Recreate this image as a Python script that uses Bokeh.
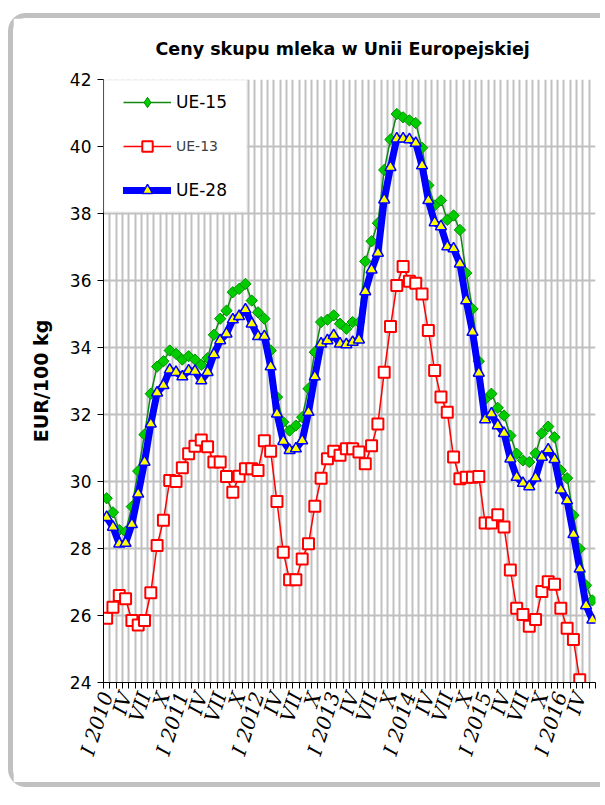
from bokeh.plotting import figure
from bokeh.models import Range1d, FixedTicker, Legend, LegendItem, BoxAnnotation
from bokeh.embed import file_html
from bokeh.resources import INLINE

# monthly data: I 2010 ... VI 2016
ue15 = [29.50, 29.08, 28.55, 28.50, 29.25, 30.31, 31.40, 32.62, 33.43, 33.59, 33.91, 33.81,
        33.64, 33.74, 33.64, 33.48, 33.68, 34.38, 34.86, 35.10, 35.65, 35.75, 35.90, 35.40,
        35.05, 34.86, 33.91, 32.52, 31.77, 31.52, 31.67, 31.92, 32.77, 33.86, 34.76, 34.83,
        34.96, 34.71, 34.56, 34.76, 34.75, 36.57, 37.17, 37.71, 39.30, 40.21, 40.97, 40.87,
        40.78, 40.70, 39.96, 38.84, 38.24, 38.39, 37.81, 37.94, 37.51, 36.22, 35.15, 33.59,
        32.45, 32.62, 32.20, 31.97, 31.37, 30.83, 30.63, 30.58, 30.84, 31.44, 31.64, 31.32,
        30.33, 30.10, 28.99, 27.99, 26.90, 26.45]

# I 2010 ... IV 2016
ue13 = [25.92, 26.25, 26.60, 26.50, 25.85, 25.72, 25.85, 26.68, 28.09, 28.84, 30.03, 30.00,
        30.41, 30.83, 31.05, 31.24, 31.04, 30.58, 30.58, 30.15, 29.68, 30.16, 30.38, 30.38,
        30.33, 31.22, 30.90, 29.40, 27.89, 27.07, 27.07, 27.69, 28.14, 29.26, 30.10, 30.68,
        30.90, 30.78, 30.98, 30.98, 30.88, 30.53, 31.07, 31.72, 33.26, 34.63, 35.85, 36.42,
        35.98, 35.92, 35.60, 34.51, 33.31, 32.52, 32.07, 30.73, 30.08, 30.13, 30.13, 30.15,
        28.76, 28.76, 29.01, 28.64, 27.36, 26.22, 26.03, 25.68, 25.88, 26.72, 27.01, 26.93,
        26.22, 25.62, 25.28, 24.08]

# I 2010 ... VI 2016
ue28 = [28.93, 28.64, 28.14, 28.16, 28.72, 29.63, 30.58, 31.72, 32.65, 32.87, 33.33, 33.26,
        33.13, 33.31, 33.29, 33.01, 33.26, 33.79, 34.21, 34.41, 34.83, 34.93, 35.13, 34.71,
        34.33, 34.33, 33.43, 32.02, 31.20, 30.93, 30.98, 31.22, 32.07, 33.13, 34.11, 34.21,
        34.36, 34.11, 34.09, 34.16, 34.23, 35.67, 36.32, 36.82, 38.41, 39.38, 40.23, 40.23,
        40.21, 40.10, 39.43, 38.39, 37.73, 37.61, 37.01, 36.95, 36.50, 35.40, 34.46, 33.24,
        31.85, 32.02, 31.67, 31.44, 30.68, 30.13, 29.95, 29.85, 30.11, 30.73, 30.95, 30.66,
        29.75, 29.43, 28.42, 27.39, 26.30, 25.87]

n_months = 78
tick_months = list(range(0, 78, 3))
tick_labels = ["I 2010", "IV", "VII", "X", "I 2011", "IV", "VII", "X",
               "I 2012", "IV", "VII", "X", "I 2013", "IV", "VII", "X",
               "I 2014", "IV", "VII", "X", "I 2015", "IV", "VII", "X",
               "I 2016", "IV"]
y_ticks = [24, 26, 28, 30, 32, 34, 36, 38, 40, 42]

x15 = [i + 0.5 for i in range(len(ue15))]
x13 = [i + 0.5 for i in range(len(ue13))]
x28 = [i + 0.5 for i in range(len(ue28))]

p = figure(width=592, height=774, x_range=Range1d(0, n_months), y_range=Range1d(24, 42),
           output_backend="svg", toolbar_location=None,
           min_border_left=90, min_border_right=10, min_border_top=61, min_border_bottom=110,
           background_fill_color="white", border_fill_color="white", outline_line_color=None)
p.styles = {"margin-left": "8px", "margin-top": "13px",
            "border-style": "solid", "border-color": "#c0c0c0",
            "border-width": "5px 0px 5px 5px", "border-radius": "18px 0px 0px 18px"}

p.title.text = "Ceny skupu mleka w Unii Europejskiej"
p.title.align = "left"
p.title.offset = 52
p.title.vertical_align = "top"
p.title.text_font = "DejaVu Sans"
p.title.text_font_size = "17.5px"
p.title.text_font_style = "bold"
p.title.text_color = "black"
p.title.standoff = 38

xa = p.xaxis[0]
xa.ticker = FixedTicker(ticks=[k + 0.5 for k in tick_months], minor_ticks=list(range(0, n_months + 1)))
xa.major_label_overrides = {k + 0.5: lab for k, lab in zip(tick_months, tick_labels)}
xa.major_label_orientation = 1.26
xa.major_tick_line_color = None
xa.major_tick_out = 6
xa.major_tick_in = 0
xa.minor_tick_out = 6
xa.minor_tick_in = 0
xa.minor_tick_line_color = "black"
xa.axis_line_color = "black"
xa.major_label_standoff = 4
xa.major_label_text_font = "DejaVu Serif"
xa.major_label_text_font_style = "italic"
xa.major_label_text_font_size = "20px"
xa.major_label_text_color = "black"

ya = p.yaxis[0]
ya.ticker = FixedTicker(ticks=y_ticks)
ya.major_tick_out = 6
ya.major_tick_in = 0
ya.minor_tick_line_color = None
ya.axis_line_color = "black"
ya.major_tick_line_color = "black"
ya.major_label_standoff = 6
ya.major_label_text_font = "DejaVu Sans"
ya.major_label_text_font_size = "17px"
ya.major_label_text_color = "black"
ya.axis_label = "EUR/100 kg"
ya.axis_label_text_font = "DejaVu Sans"
ya.axis_label_text_font_style = "bold"
ya.axis_label_text_font_size = "19px"
ya.axis_label_text_color = "black"
ya.axis_label_standoff = 15

p.xgrid.ticker = xa.ticker
p.xgrid.grid_line_color = None
p.xgrid.minor_grid_line_color = "#c0c0c0"
p.xgrid.minor_grid_line_width = 2
p.ygrid.ticker = ya.ticker
p.ygrid.grid_line_color = "#c0c0c0"
p.ygrid.grid_line_width = 2

r_line = p.line(x13, ue13, line_color="#ff0000", line_width=1.5)
r_pts = p.scatter(x13, ue13, marker="square", size=11, fill_color="white",
                  line_color="#ff0000", line_width=2)
g_line = p.line(x15, ue15, line_color="#118811", line_width=1.5)
g_pts = p.scatter(x15, ue15, marker="square", angle=0.785, size=8,
                  fill_color="#00cc00", line_color="#009000", line_width=1)
b_line = p.line(x28, ue28, line_color="#0000ff", line_width=7, line_cap="round", line_join="round")
b_pts = p.scatter(x28, ue28, marker="triangle", size=11, fill_color="#ffff00",
                  line_color="#0000ff", line_width=1.5)
# legend swatch for UE-15 (diamond); NaN position, so nothing is drawn in the plot
g_leg = p.scatter([float("nan")], [float("nan")], marker="diamond", size=13,
                  fill_color="#00cc00", line_color="#009000", line_width=1)

legend_box = BoxAnnotation(left=0, right=22.8, bottom=38.03, top=42, fill_color="white",
                           fill_alpha=1, line_color="#c0c0c0", line_width=2)
p.add_layout(legend_box)


def mk_leg(label, rends, vy, size, color):
    return Legend(items=[LegendItem(label=label, renderers=rends)], location=(20, vy),
                  orientation="vertical", padding=0, margin=0, spacing=0,
                  glyph_width=48, glyph_height=26, label_height=26, label_standoff=5,
                  label_text_font="DejaVu Sans", label_text_font_size=size,
                  label_text_color=color, background_fill_alpha=0, border_line_alpha=0)


p.add_layout(mk_leg("UE-15", [g_line, g_leg], 567, "17px", "black"))
p.add_layout(mk_leg("UE-13", [r_line, r_pts], 523, "14px", "#404040"))
p.add_layout(mk_leg("UE-28", [b_line, b_pts], 479, "17px", "black"))

open("out.html", "w").write(file_html(p, INLINE))
